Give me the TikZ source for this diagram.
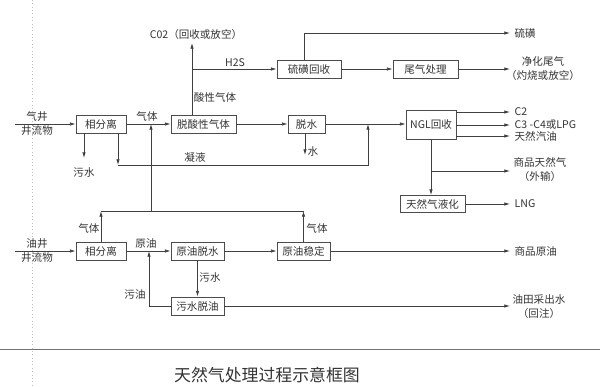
\documentclass[tikz,border=0pt]{standalone}
\usepackage{fontspec}
\setmainfont{Noto Sans CJK SC}
\usetikzlibrary{arrows.meta,positioning}

\begin{document}
\begin{tikzpicture}[x=0.025cm,y=-0.025cm,
      every node/.style={font=\fontsize{7.5}{10}\selectfont,inner sep=1pt,text=black!80},
      unit/.style={draw=black!70,line width=0.6pt,minimum height=0.45cm,inner sep=1pt},
      flow/.style={draw=black!75,line width=0.5pt,-{Latex[length=4pt,width=2.4pt]}},
      pipe/.style={draw=black!75,line width=0.5pt}]
    \useasboundingbox (0,0) rectangle (600,387);
    \draw[black!25,dotted] (32,0) -- (32,387);
    % gas well
    \node[unit,minimum width=1.25cm] (gsep) at (101,124) {相分离};
    \node[unit,minimum width=1.625cm] (deacid) at (203.5,124) {脱酸性气体};
    \node[unit,minimum width=0.925cm] (dehyd) at (306.5,124) {脱水};
    \node[unit,minimum width=1.6cm] (sulf) at (309,69) {硫磺回收};
    \node[unit,minimum width=1.625cm] (tail) at (425.5,69) {尾气处理};
    \node[unit,minimum width=1.25cm,minimum height=0.725cm] (ngl) at (431,124.5) {NGL回收};
    \node[unit,minimum width=1.625cm,minimum height=0.425cm] (lng) at (432.5,204) {天然气液化};
    % oil well
    \node[unit,minimum width=1.25cm] (osep) at (101,251) {相分离};
    \node[unit,minimum width=1.325cm] (odehyd) at (197.5,251) {原油脱水};
    \node[unit,minimum width=1.325cm] (ostab) at (303.5,251) {原油稳定};
    \node[unit,minimum width=1.325cm] (wdeoil) at (197.5,306) {污水脱油};
    % free ends and bends
    \coordinate (gin) at (15,124);
    \coordinate (oin) at (15,251);
    \coordinate (co2) at (192,43);
    \coordinate (h2s) at (192,69);
    \coordinate (s-up) at (304,33);
    \coordinate (o-s) at (510,33);
    \coordinate (o-tail) at (510,69);
    \coordinate (gw) at (84,158);
    \coordinate (w1) at (305,155);
    \coordinate (c1) at (118,165);
    \coordinate (c2) at (368,165);
    \coordinate (o-sale) at (510,171);
    \coordinate (o-lng) at (510,204);
    \coordinate (g1) at (101,211);
    \coordinate (g2) at (304,211);
    \coordinate (g3) at (151,211);
    \coordinate (r1) at (149,306);
    \coordinate (o-crude) at (510,251);
    \coordinate (o-water) at (510,306);
    % gas side
    \node[align=center] (gwell) at (37,124) {气井\\井流物};
    \draw[flow] (gin) -- (gsep);
    \draw[flow] (gsep) -- (deacid);
    \node (gas1) at (147,116) {气体};
    \draw[flow] (deacid.north -| co2) -- (co2);
    \node (co2txt) at (196,34) {C02（回收或放空）};
    \node (acid) at (215,97) {酸性气体};
    \draw[flow] (h2s) -- (sulf);
    \node (h2stxt) at (235,63) {H2S};
    \draw[flow] (sulf.north -| s-up) -- (s-up) -- (o-s);
    \node[right] (l-s) at (513,33) {硫磺};
    \draw[flow] (sulf) -- (tail);
    \draw[flow] (tail) -- (o-tail);
    \node[align=center] (l-tail) at (543,69) {净化尾气\\（灼烧或放空）};
    \draw[flow] (deacid) -- (dehyd);
    \draw[flow] (dehyd) -- (dehyd -| ngl.west);
    \draw[flow] (dehyd.south -| w1) -- (w1);
    \node (water) at (313,152) {水};
    \draw[flow] (gsep.south -| gw) -- (gw);
    \node (sewage) at (84,173) {污水};
    \draw[flow] (gsep.south -| c1) -- (c1);
    \draw[flow] (c1) -- (c2) -- (c2 |- dehyd);
    \node (cond) at (195,157) {凝液};
    \foreach \y/\n/\t in {112/c2/C2,125/c34/C3 -C4或LPG,136/gas/天然汽油}{
      \coordinate (o-\n) at (510,\y);
      \draw[flow] (ngl.east |- o-\n) -- (o-\n);
      \node[right] (l-\n) at (513,\y) {\t};
    }
    \draw[flow] (ngl.south) -- (ngl.south |- lng.north);
    \draw[flow] (ngl.south |- o-sale) -- (o-sale);
    \node[align=center] (l-sale) at (540,170) {商品天然气\\（外输）};
    \draw[flow] (lng) -- (o-lng);
    \node[right] (l-lng) at (513,204) {LNG};
    % oil side
    \node[align=center] (owell) at (37,251) {油井\\井流物};
    \draw[flow] (oin) -- (osep);
    \draw[flow] (osep) -- (odehyd);
    \node (crude) at (146,243) {原油};
    \draw[flow] (odehyd) -- (ostab);
    \draw[flow] (ostab) -- (o-crude);
    \node[right] (l-crude) at (513,251) {商品原油};
    \draw[flow] (odehyd) -- (wdeoil);
    \node (sewage2) at (210,278) {污水};
    \draw[pipe] (wdeoil.west) -- (r1);
    \draw[flow] (r1) -- (r1 |- osep);
    \node (waste) at (135,294) {污油};
    \draw[flow] (wdeoil) -- (o-water);
    \node[align=center] (l-water) at (539,307) {油田采出水\\（回注）};
    \draw[flow] (osep.north) -- (g1);
    \draw[flow] (ostab.north) -- (ostab.north |- g2);
    \draw[pipe] (g1) -- (g2);
    \draw[flow] (g3) -- (g3 |- gsep);
    \node (gas2) at (89,228) {气体};
    \node (gas3) at (317,228) {气体};
    % title
    \draw[black!55,line width=0.7pt] (0,349) -- (600,349);
    \node[font=\fontsize{12}{14}\selectfont] (title) at (267,375) {天然气处理过程示意框图};
  \end{tikzpicture}
\end{document}
